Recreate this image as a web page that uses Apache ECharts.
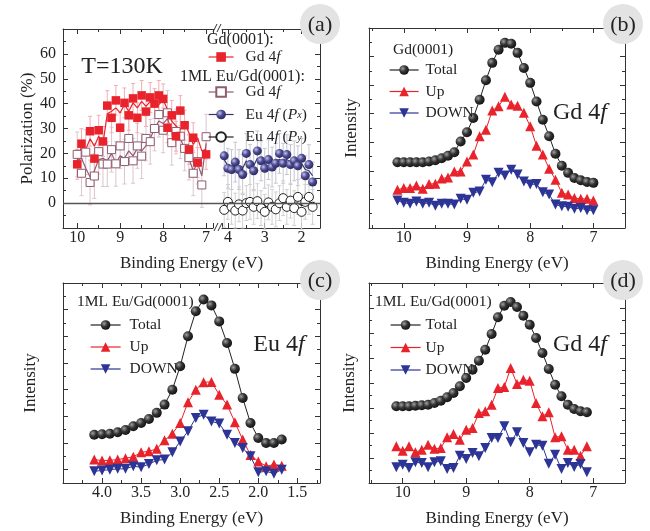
<!DOCTYPE html>
<html>
<head>
<meta charset="utf-8">
<script src="https://cdn.jsdelivr.net/npm/echarts@6/dist/echarts.min.js"></script>
<style>
  html, body { margin: 0; background: #fff; }
  #main { width: 650px; height: 531px; }
</style>
</head>
<body>
<div id="main"></div>
<script>
// ---- panel (a): spin polarization, Gd 4f side (binding energy 10..7 eV)
const energyA = [10.0, 9.9, 9.8, 9.7, 9.6, 9.5, 9.4, 9.3, 9.2, 9.1, 9.0, 8.9, 8.8, 8.7, 8.6, 8.5,
  8.4, 8.3, 8.2, 8.1, 8.0, 7.9, 7.8, 7.7, 7.6, 7.5, 7.4, 7.3, 7.2, 7.1, 7.0];
const polGd = [15.6, 23.9, null, 28.9, 17.9, 29.3, 24.8, 39.2, 34.3, 41.3, 30.3, 40.3, 35.3, 42.1, 34.3, 43.3,
  36.8, 42.5, 40, 43.3, 41.9, 30.3, 35.3, 26.9, 37.2, 31.3, 21.6, 26.3, 16.3, null, 19.6];
const polGdLine = [16.9, 22.9, 21.6, 25.9, 22.9, 26.9, 24, 35.9, 36.9, 38.3, 36.3, 39.6, 36.9, 40.3, 38.3, 40.9,
  38.9, 40.9, 38.9, 39.6, 41.6, 37.6, 33, 31, 29.6, 32.3, 28.3, 23.6, 26.3, 21, 21.6];
const polEuGd = [19.6, 12.0, 20.5, 8.3, 10.9, 20.7, 15.7, 15.7, 21.5, 15.8, 23, 16.7, 26, 17, 23, 18.9,
  26, 24.7, 30, 35.6, 29.3, 36.3, 24.3, 28.8, 26.9, 22, 18.3, 12, 16.7, 7.3, 26.7];
const polEuGdLine = [17, 18, 14, 10.5, 13, 17.5, 18, 17, 20, 16, 19, 18, 21, 19, 22, 21,
  23, 26, 30, 33, 32, 34, 29, 27, 26, 22, 18, 13, 16, 11, 24];
// ---- panel (a): Eu 4f side (binding energy 4.1..1.7 eV)
const energyEu = [4.1, 4.0, 3.9, 3.8, 3.7, 3.6, 3.5, 3.4, 3.3, 3.2, 3.1, 3.0, 2.9, 2.8, 2.7, 2.6,
  2.5, 2.4, 2.3, 2.2, 2.1, 2.0, 1.9, 1.8, 1.7];
const polPx = [19, 14, 13.5, 16.5, 13.5, 11.5, 20, 15.5, 13, 21, 17, 14, 17.5, 14.5, 16, 20,
  16, 19.5, 15.5, 17, 15, 18, 11, 15.5, 8.5];
const polPxLine = [17.5, 15, 14, 15, 14, 14, 17, 15.5, 15, 18, 17, 16, 16.5, 15.5, 17, 17.5,
  17, 17.5, 16.5, 16.5, 16, 16, 13.5, 13, 11];
const polPy = [-2.7, 0.5, -1.5, -3, -0.5, -3, 0, 0.5, -1.5, 0.8, -2, -3.5, 0.3, -1.5, -2.5, 0,
  2, -1.5, 1, -2, 2.5, -3.5, 0.5, 2.5, -1.5];
const polPyLine = [-1.5, -1, -1.5, -2, -1.5, -1.5, -1, -0.5, -0.5, -0.5, -1, -1.5, -1, -0.5, -0.5, 0.5,
  0, 0, -0.5, 0, 0, -1, -0.5, 0.5, 0];
// error bar half-heights (%)
const errGd = 6, errEuGd = 9, errPx = 8, errPy = 7;

// ---- panel (b): Gd(0001), Gd 4f
const energyB = [10.1, 10.0, 9.9, 9.8, 9.7, 9.6, 9.5, 9.4, 9.3, 9.2, 9.1, 9.0, 8.9, 8.8, 8.7, 8.6,
  8.5, 8.4, 8.3, 8.2, 8.1, 8.0, 7.9, 7.8, 7.7, 7.6, 7.5, 7.4, 7.3, 7.2, 7.1, 7.0];
const bTotal = [2.30, 2.30, 2.30, 2.30, 2.30, 2.33, 2.37, 2.44, 2.53, 2.65, 3.03, 3.35, 3.85, 4.49, 5.17, 5.78,
  6.24, 6.48, 6.45, 6.13, 5.60, 5.08, 4.43, 3.79, 3.21, 2.60, 2.18, 1.93, 1.75, 1.67, 1.61, 1.58];
const bUp = [1.34, 1.40, 1.40, 1.49, 1.37, 1.54, 1.55, 1.73, 1.77, 1.98, 1.98, 2.33, 2.57, 3.21, 3.44, 4.11,
  4.26, 4.59, 4.32, 4.28, 4.03, 3.56, 2.88, 2.57, 2.07, 1.69, 1.23, 1.17, 1.05, 1.02, 1.02, 0.96];
const bDown = [0.96, 0.88, 0.85, 0.93, 0.85, 0.88, 0.78, 0.85, 0.85, 0.82, 1.02, 0.99, 1.23, 1.28, 1.69, 1.60,
  1.93, 1.84, 2.04, 1.87, 1.63, 1.52, 1.54, 1.25, 1.17, 0.82, 0.76, 0.74, 0.67, 0.70, 0.62, 0.62];

// ---- panel (c): 1ML Eu/Gd(0001), Eu 4f
const energyC = [4.1, 4.0, 3.9, 3.8, 3.7, 3.6, 3.5, 3.4, 3.3, 3.2, 3.1, 3.0, 2.9, 2.8, 2.7, 2.6,
  2.5, 2.4, 2.3, 2.2, 2.1, 2.0, 1.9, 1.8, 1.7];
const cTotal = [1.31, 1.33, 1.35, 1.40, 1.49, 1.63, 1.75, 1.90, 2.13, 2.44, 3.0, 3.88, 5.0, 5.94, 6.38, 6.16,
  5.56, 4.75, 3.78, 2.69, 1.75, 1.19, 1.0, 1.0, 1.13];
const cUp = [0.38, 0.34, 0.35, 0.38, 0.43, 0.48, 0.65, 0.69, 0.78, 1.1, 1.35, 1.75, 2.53, 3.0, 3.28, 3.29,
  2.81, 2.44, 1.78, 1.13, 0.55, 0.31, 0.13, 0.19, 0.15];
const cDown = [-0.06, -0.03, 0, 0.03, 0.03, 0.13, 0.09, 0.21, 0.35, 0.38, 0.65, 1.06, 1.44, 1.94, 2.06, 1.81,
  1.73, 1.31, 1.0, 0.81, 0.5, -0.1, -0.06, -0.15, 0];

// ---- panel (d): 1ML Eu/Gd(0001), Gd 4f
const energyD = [10.1, 10.0, 9.9, 9.8, 9.7, 9.6, 9.5, 9.4, 9.3, 9.2, 9.1, 9.0, 8.9, 8.8, 8.7, 8.6,
  8.5, 8.4, 8.3, 8.2, 8.1, 8.0, 7.9, 7.8, 7.7, 7.6, 7.5, 7.4, 7.3, 7.2, 7.1];
const dTotal = [3.07, 3.07, 3.07, 3.09, 3.11, 3.13, 3.2, 3.29, 3.43, 3.6, 3.87, 4.2, 4.53, 4.89, 5.33, 5.96,
  6.63, 7.09, 7.24, 7.04, 6.69, 6.33, 5.8, 5.2, 4.56, 3.93, 3.47, 3.13, 2.96, 2.87, 2.83];
const dUp = [1.47, 1.29, 1.47, 1.23, 1.33, 1.53, 1.37, 1.4, 1.83, 1.96, 1.73, 2.13, 2.2, 2.8, 2.87, 3.13,
  3.8, 3.84, 4.6, 3.96, 4.13, 4.09, 3.2, 2.67, 2.83, 1.83, 1.87, 1.33, 1.33, 1.09, 1.47];
const dDown = [0.63, 0.73, 0.6, 0.83, 0.8, 0.63, 0.83, 0.87, 0.56, 0.6, 1.09, 0.96, 1.2, 1.07, 1.4, 1.8,
  1.8, 2.27, 1.63, 2.03, 1.6, 1.23, 1.53, 1.49, 0.77, 1.13, 0.56, 0.8, 0.64, 0.76, 0.43];

const polTicks = [0, 10, 20, 30, 40, 50, 60];

const serif = "'Liberation Serif', 'Times New Roman', serif";
const ink = '#333';
const red = '#e8232b', blue = '#2c3495', mauve = '#8e5c70', navy = '#34336e';

let chart = echarts.init(document.getElementById('main'), null, {renderer: 'canvas'});

const ball = (light, mid, dark) => ({
  type: 'radial', x: 0.35, y: 0.35, r: 0.75,
  colorStops: [{offset: 0, color: light}, {offset: 0.45, color: mid}, {offset: 1, color: dark}]
});

const pairs = (xs, ys) => xs.map((x, i) => [x, ys[i]]);

function frameAxis(kind, grid, pos, min, max, step, withLabels, extra) {
  return Object.assign({
    type: 'value', gridIndex: grid, position: pos, min: min, max: max,
    inverse: kind === 'x',
    minInterval: step, maxInterval: step,
    axisLine: {show: true, onZero: false, lineStyle: {color: ink, width: 1}},
    axisTick: {show: true, inside: true, length: 5, lineStyle: {color: ink}},
    minorTick: {show: true, splitNumber: 2, length: 3, lineStyle: {color: ink}},
    axisLabel: {show: withLabels, margin: kind === 'x' ? 2 : 7, fontFamily: serif, fontSize: 16,
      color: '#222', showMinLabel: false, showMaxLabel: false},
    splitLine: {show: false},
    nameTextStyle: {fontFamily: serif, fontSize: 17, color: '#222'}
  }, extra || {});
}

function lineSeries(name, xs, ys, xi, yi, color, symbol, size, itemStyle, extra) {
  return Object.assign({
    name: name, type: 'line', xAxisIndex: xi, yAxisIndex: yi,
    data: pairs(xs, ys), symbol: symbol, symbolSize: size, showSymbol: true,
    connectNulls: true, z: 3,
    lineStyle: {color: color, width: 1},
    itemStyle: Object.assign({color: color}, itemStyle || {})
  }, extra || {});
}

// line drawn on its own (a smoothed trace), markers drawn separately
function traceSeries(xs, ys, xi, yi, color) {
  return {type: 'line', xAxisIndex: xi, yAxisIndex: yi, data: pairs(xs, ys),
    showSymbol: false, symbol: 'none', z: 2, lineStyle: {color: color, width: 1.2}};
}

function errorSeries(xs, ys, err, xi, yi, color) {
  const rows = [];
  xs.forEach((x, i) => { if (ys[i] !== null) rows.push([x, ys[i], err]); });
  return {
    type: 'custom', xAxisIndex: xi, yAxisIndex: yi, data: rows, z: 1,
    itemStyle: {color: color}, encode: {x: 0, y: 1},
    renderItem: (params, api) => {
      const x = api.value(0), y = api.value(1), e = api.value(2);
      const top = api.coord([x, y + e]), bot = api.coord([x, y - e]);
      const st = {stroke: color, lineWidth: 1};
      return {type: 'group', children: [
        {type: 'line', shape: {x1: top[0], y1: top[1], x2: bot[0], y2: bot[1]}, style: st},
        {type: 'line', shape: {x1: top[0] - 2, y1: top[1], x2: top[0] + 2, y2: top[1]}, style: st},
        {type: 'line', shape: {x1: bot[0] - 2, y1: bot[1], x2: bot[0] + 2, y2: bot[1]}, style: st}
      ]};
    }
  };
}

const rich = {
  n: {fontFamily: serif, fontSize: 15.5, color: '#222', lineHeight: 12},
  i: {fontFamily: serif, fontSize: 15.5, fontStyle: 'italic', color: '#222', lineHeight: 12},
  s: {fontFamily: serif, fontSize: 10, fontStyle: 'italic', color: '#222', lineHeight: 4, verticalAlign: 'bottom'}
};
const legendLabel = {
  aGd: '{n|Gd 4}{i|f}',
  aEuGd: '{n|Gd 4}{i|f}',
  aPx: '{n|Eu 4}{i|f}{n| (}{i|P}{s|x}{n|)}',
  aPy: '{n|Eu 4}{i|f}{n| (}{i|P}{s|y}{n|)}',
  bTotal: '{n|Total}', bUp: '{n|Up}', bDown: '{n|DOWN}',
  cTotal: '{n|Total}', cUp: '{n|Up}', cDown: '{n|DOWN}',
  dTotal: '{n|Total}', dUp: '{n|Up}', dDown: '{n|DOWN}'
};
function legendBlock(names, left, firstCenter, step, itemWidth, textPad) {
  return {
    data: names, left: left, top: firstCenter - 6, orient: 'vertical', padding: 0,
    itemWidth: itemWidth, itemHeight: 12, itemGap: step - 12, selectedMode: false,
    formatter: n => legendLabel[n],
    lineStyle: {opacity: 1, width: 1.2},
    textStyle: {fontFamily: serif, fontSize: 15.5, color: '#222', lineHeight: 12,
      padding: [0, 0, 0, textPad], rich: rich}
  };
}

const grids = [
  {left: 63, top: 29, width: 150, height: 199},   // (a) Gd side
  {left: 222, top: 29, width: 98, height: 199},   // (a) Eu side
  {left: 369, top: 28, width: 256, height: 200},  // (b)
  {left: 63, top: 283, width: 257, height: 200},  // (c)
  {left: 369, top: 283, width: 256, height: 200}, // (d)
  {left: 63, top: 29, width: 257, height: 199}    // (a) full width, zero line + title
];

const energyTitle = {name: 'Binding Energy (eV)', nameLocation: 'middle', nameGap: 27};

const xAxes = [
  frameAxis('x', 0, 'bottom', 6.84, 10.33, 1, true),
  frameAxis('x', 0, 'top', 6.84, 10.33, 1, false),
  frameAxis('x', 1, 'bottom', 1.5, 4.16, 1, true),
  frameAxis('x', 1, 'top', 1.5, 4.16, 1, false),
  frameAxis('x', 2, 'bottom', 6.5, 10.55, 1, true, energyTitle),
  frameAxis('x', 2, 'top', 6.5, 10.55, 1, false),
  frameAxis('x', 3, 'bottom', 1.21, 4.5, 0.5, true, energyTitle),
  frameAxis('x', 3, 'top', 1.21, 4.5, 0.5, false),
  frameAxis('x', 4, 'bottom', 6.5, 10.53, 1, true, energyTitle),
  frameAxis('x', 4, 'top', 6.5, 10.53, 1, false),
  Object.assign({type: 'value', gridIndex: 5, min: 0, max: 1, axisLine: {show: false}, axisTick: {show: false},
    axisLabel: {show: false}, splitLine: {show: false},
    nameTextStyle: {fontFamily: serif, fontSize: 17, color: '#222'}}, energyTitle)
];
xAxes[6].axisLabel.formatter = v => v.toFixed(1);

const yAxes = [
  frameAxis('y', 0, 'left', -10, 70, 10, true,
    {name: 'Polarization (%)', nameLocation: 'middle', nameGap: 27}),
  frameAxis('y', 1, 'right', -10, 70, 10, false),
  frameAxis('y', 2, 'left', 0, 7, 1, false, {name: 'Intensity', nameLocation: 'middle', nameGap: 9}),
  frameAxis('y', 2, 'right', 0, 7, 1, false),
  frameAxis('y', 3, 'left', -0.5, 7, 1, false, {name: 'Intensity', nameLocation: 'middle', nameGap: 24}),
  frameAxis('y', 3, 'right', -0.5, 7, 1, false),
  frameAxis('y', 4, 'left', 0, 8, 1, false, {name: 'Intensity', nameLocation: 'middle', nameGap: 11}),
  frameAxis('y', 4, 'right', 0, 8, 1, false),
  {type: 'value', gridIndex: 5, min: -10, max: 70, show: false}
];
yAxes[0].axisLabel.formatter = v => (polTicks.indexOf(v) >= 0 ? String(v) : '');

const openStyle = c => ({color: '#fff', borderColor: c, borderWidth: 1});
const darkBall = () => ({color: ball('#a0a0a0', '#333', '#0c0c0c')});

const series = [
  // zero reference line across panel (a)
  {type: 'line', xAxisIndex: 10, yAxisIndex: 8, data: [], z: 1,
    markLine: {silent: true, symbol: 'none', label: {show: false}, animation: false,
      lineStyle: {color: '#555', width: 1.3, type: 'solid'}, data: [{yAxis: 0}]}},
  // (a) error bars
  errorSeries(energyA, polEuGd, errEuGd, 0, 0, '#dcc6cf'),
  errorSeries(energyA, polGd, errGd, 0, 0, '#f3adb2'),
  errorSeries(energyEu, polPx, errPx, 2, 1, '#c6c6d0'),
  errorSeries(energyEu, polPy, errPy, 2, 1, '#d0d0d0'),
  // (a) traces
  traceSeries(energyA, polEuGdLine, 0, 0, mauve),
  traceSeries(energyA, polGdLine, 0, 0, red),
  traceSeries(energyEu, polPxLine, 2, 1, navy),
  traceSeries(energyEu, polPyLine, 2, 1, '#222'),
  // (a) markers
  lineSeries('aEuGd', energyA, polEuGd, 0, 0, mauve, 'rect', 8, openStyle(mauve),
    {lineStyle: {color: mauve, width: 1.2, opacity: 0}}),
  lineSeries('aGd', energyA, polGd, 0, 0, red, 'rect', 8.5, null,
    {lineStyle: {color: red, width: 1.2, opacity: 0}}),
  lineSeries('aPx', energyEu, polPx, 2, 1, navy, 'circle', 9, {color: ball('#c4c4ea', '#4d4b94', '#22204f')},
    {lineStyle: {color: navy, width: 1.2, opacity: 0}}),
  lineSeries('aPy', energyEu, polPy, 2, 1, '#222', 'circle', 9, openStyle('#222'),
    {lineStyle: {color: '#222', width: 1.2, opacity: 0}}),
  // (b)
  lineSeries('bTotal', energyB, bTotal, 4, 2, '#222', 'circle', 10, darkBall()),
  lineSeries('bUp', energyB, bUp, 4, 2, red, 'triangle', 10),
  lineSeries('bDown', energyB, bDown, 4, 2, blue, 'triangle', 10, null, {symbolRotate: 180}),
  // (c)
  lineSeries('cTotal', energyC, cTotal, 6, 4, '#222', 'circle', 10, darkBall()),
  lineSeries('cUp', energyC, cUp, 6, 4, red, 'triangle', 10),
  lineSeries('cDown', energyC, cDown, 6, 4, blue, 'triangle', 10, null, {symbolRotate: 180}),
  // (d)
  lineSeries('dTotal', energyD, dTotal, 8, 6, '#222', 'circle', 10, darkBall()),
  lineSeries('dUp', energyD, dUp, 8, 6, red, 'triangle', 10),
  lineSeries('dDown', energyD, dDown, 8, 6, blue, 'triangle', 10, null, {symbolRotate: 180})
];

const legends = [
  legendBlock(['aGd'], 208, 55, 18, 25, 7),
  legendBlock(['aEuGd', 'aPx', 'aPy'], 208, 90, 18.5, 25, 7),
  legendBlock(['bTotal', 'bUp', 'bDown'], 389, 68, 17.5, 29, 2),
  legendBlock(['cTotal', 'cUp', 'cDown'], 90, 323, 18, 30, 4),
  legendBlock(['dTotal', 'dUp', 'dDown'], 390, 323, 18.5, 30, 0)
];

function label(text, x, y, size, align) {
  return {type: 'text', z: 50, style: {text: text, x: x, y: y, fill: '#222',
    font: size + 'px ' + serif, align: align || 'left', verticalAlign: 'middle'}};
}
function species(el, x, y) {
  return {type: 'text', z: 50, style: {text: '{n|' + el + ' 4}{i|f}', x: x, y: y, align: 'center',
    verticalAlign: 'middle',
    rich: {n: {fontFamily: serif, fontSize: 24, fill: '#222'},
           i: {fontFamily: serif, fontSize: 24, fontStyle: 'italic', fill: '#222'}}}};
}
function badge(text, cx, cy) {
  return [
    {type: 'circle', z: 60, shape: {cx: cx, cy: cy, r: 20}, style: {fill: '#e3e3e3'}},
    {type: 'text', z: 61, style: {text: text, x: cx, y: cy + 1, align: 'center', verticalAlign: 'middle',
      font: '22px ' + serif, fill: '#222'}}
  ];
}
function slash(x, y) {
  return {type: 'line', z: 50, shape: {x1: x, y1: y + 4, x2: x + 4, y2: y - 4},
    style: {stroke: ink, lineWidth: 1}};
}

const graphics = [
  label('T=130K', 122, 67, 24, 'center'),
  label('Gd(0001):', 207, 40, 16),
  label('1ML Eu/Gd(0001):', 180, 77, 16),
  label('Gd(0001)', 393, 50, 15.5),
  label('1ML Eu/Gd(0001)', 77, 302, 15.5),
  label('1ML Eu/Gd(0001)', 375, 302, 15.5),
  species('Gd', 580, 113),
  species('Eu', 279, 345),
  species('Gd', 580, 345),
  slash(213, 28), slash(217, 28),
  slash(214, 227), slash(218, 227)
].concat(badge('(a)', 320, 24), badge('(b)', 623, 24), badge('(c)', 320, 280), badge('(d)', 623, 280));

chart.setOption({
  animation: false,
  backgroundColor: '#fff',
  grid: grids,
  xAxis: xAxes,
  yAxis: yAxes,
  legend: legends,
  series: series,
  graphic: graphics
});
</script>
</body>
</html>
